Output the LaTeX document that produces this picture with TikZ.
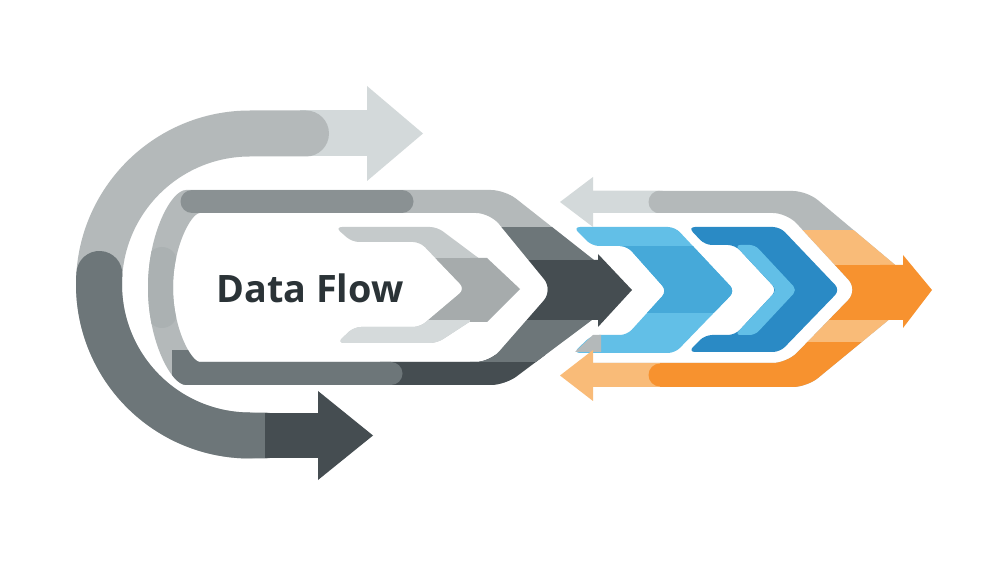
\documentclass[tikz,border=0pt]{standalone}
\usepackage{xcolor}
\usepackage{tikz}
\usepackage{fontspec}
\setsansfont{Open Sans}
\definecolor{greyA}{HTML}{D3D9DA}
\definecolor{greyB}{HTML}{B4B9BA}
\definecolor{greyC}{HTML}{8A9193}
\definecolor{greyD}{HTML}{6D7679}
\definecolor{greyE}{HTML}{454D51}
\definecolor{greyF}{HTML}{A6ABAC}
\definecolor{greyG}{HTML}{C5CACB}
\definecolor{greyH}{HTML}{D5DADB}
\definecolor{greyI}{HTML}{ABB1B2}
\definecolor{blueA}{HTML}{62BFE7}
\definecolor{blueB}{HTML}{46A9D9}
\definecolor{blueC}{HTML}{2A8AC5}
\definecolor{orangeA}{HTML}{F7922F}
\definecolor{orangeB}{HTML}{F9BB78}
\definecolor{ink}{HTML}{2B3337}
\newcommand{\midloop}{(505,190) -- (632,290) -- (505,385) -- (200,385) arc[start angle=90, end angle=270, x radius=52, y radius=97.5] -- cycle (490,213) -- (553,290) -- (490,362) -- (214,362) arc[start angle=90, end angle=270, x radius=41, y radius=74.5] -- cycle}
\newcommand{\innerchev}{(335,227) -- (437,227) -- (520,289) -- (437,343) -- (337,343) -- (354,327) -- (420,327) -- (465,289) -- (420,242) -- (352,242) -- cycle}
\newcommand{\chevlight}{(573,227) -- (675,227) -- (735,291) -- (675,353) -- (573,353) -- (592,335) -- (627,335) -- (667,291) -- (627,246) -- (592,246) -- cycle}
\newcommand{\chevdark}{(688,227) -- (780,227) -- (840,290) -- (780,352) -- (688,352) -- (705,335) -- (735,335) -- (777,290) -- (735,245) -- (705,245) -- cycle}
\newcommand{\rightloop}{(578,191) -- (807,191) -- (925,290) -- (807,387) -- (578,387) -- (578,363) -- (787,363) -- (858,290) -- (787,213) -- (578,213) -- cycle}

\begin{document}
\begin{tikzpicture}[x=0.02cm, y=-0.02cm,
    wideband/.style={line width=0.92cm},
    thinband/.style={line width=0.46cm}]
  \useasboundingbox[fill=white] (0,0) rectangle (1000,563);

  % outer loop
  \draw[greyA, wideband] (300,133.5) -- (368,133.5);
  \fill[greyA] (367,86) -- (423,133.5) -- (367,181) -- cycle;
  \draw[greyB, wideband, line cap=round] (306,133.5) -- (250,133.5) arc[start angle=270, end angle=90, radius=151];
  \draw[greyD, wideband, line cap=round] (99.37,273.97) arc[start angle=184, end angle=90, radius=151] -- (265,435.5);
  \draw[greyE, wideband] (265,435.5) -- (320,435.5);
  \fill[greyE] (318,391) -- (373,435.5) -- (318,480) -- cycle;

  % middle loop
  \fill[greyB, even odd rule, rounded corners=8pt] \midloop;
  \begin{scope}[even odd rule, rounded corners=8pt]
    \clip \midloop;
    \begin{scope}[sharp corners]
      \draw[greyI, line width=0.6cm, line cap=round] (162,262) -- (162,313);
      \draw[greyC, thinband, line cap=round] (192,201.5) -- (402,201.5);
      \fill[greyE] (380,355) rectangle (700,400);
      \fill[greyD] (172,350) rectangle (391,400);
      \fill[greyD] (391,373.5) circle[radius=11.5];
      \fill[greyD] (470,227) rectangle (700,260);
      \fill[greyE] (470,260) rectangle (700,320);
      \fill[greyD] (470,320) rectangle (700,362);
    \end{scope}
  \end{scope}
  \fill[greyE] (590,260) -- (598,260) -- (598,254) -- (632,290) -- (598,327) -- (598,320) -- (590,320) -- cycle;

  % inner chevron
  \fill[greyG, rounded corners=4pt] \innerchev;
  \begin{scope}[rounded corners=4pt]
    \clip \innerchev;
    \fill[greyF, sharp corners] (400,258) rectangle (530,320);
    \fill[greyH, sharp corners] (330,320) rectangle (530,350);
  \end{scope}
  \fill[greyF] (470,258) -- (487,258) -- (520,289) -- (487,322) -- (470,322) -- cycle;

  % blue chevrons
  \fill[blueA, rounded corners=4pt] \chevlight;
  \begin{scope}[rounded corners=4pt]
    \clip \chevlight;
    \fill[blueB, sharp corners] (600,246) rectangle (760,313);
  \end{scope}
  \fill[greyB] (575,352) -- (593,335) -- (601,335) -- (601,352) -- cycle;
  \fill[blueC, rounded corners=4pt] \chevdark;
  \fill[blueA, rounded corners=3pt] (735,245) -- (755,245) -- (797,290) -- (755,335) -- (735,335) -- (777,290) -- cycle;

  % right loop
  \fill[greyB, rounded corners=8pt] \rightloop;
  \begin{scope}[rounded corners=8pt]
    \clip \rightloop;
    \begin{scope}[sharp corners]
      \fill[greyA] (570,185) rectangle (660,220);
      \fill[greyB] (660,202) circle[radius=11.5];
      \fill[orangeB] (570,300) rectangle (660,395);
      \fill[orangeB] (780,230) rectangle (960,265);
      \fill[orangeA] (780,265) rectangle (960,320);
      \fill[orangeB] (780,320) rectangle (960,342);
      \fill[orangeA] (660,342) rectangle (960,395);
      \fill[orangeA] (660,375) circle[radius=11.5];
    \end{scope}
  \end{scope}
  \fill[greyA] (593,177) -- (560,202) -- (593,227) -- cycle;
  \fill[orangeB] (593,350) -- (560,375.5) -- (593,401) -- cycle;
  \fill[orangeA] (880,265) -- (903,265) -- (903,255) -- (932,290) -- (903,328) -- (903,320) -- (880,320) -- cycle;

  \node[font=\sffamily\bfseries\fontsize{21.5}{24}\selectfont, text=ink, anchor=base, inner sep=0pt] (title) at (310,303) {Data Flow};
\end{tikzpicture}
\end{document}
